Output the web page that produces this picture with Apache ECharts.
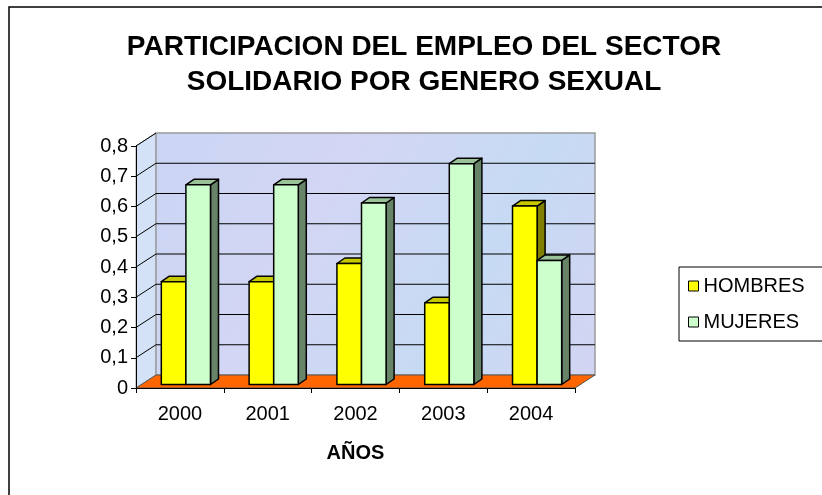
<!DOCTYPE html>
<html>
<head>
<meta charset="utf-8">
<script src="https://cdn.jsdelivr.net/npm/echarts@6/dist/echarts.min.js"></script>
<style>
  html, body { margin: 0; padding: 0; background: #fff; }
  #chart { width: 822px; height: 495px; }
</style>
</head>
<body>
<div id="chart"></div>
<script>
const years = ['2000', '2001', '2002', '2003', '2004']
const hombres = [0.34, 0.34, 0.40, 0.27, 0.59]
const mujeres = [0.66, 0.66, 0.60, 0.73, 0.41]
const yTicks = [0, 0.1, 0.2, 0.3, 0.4, 0.5, 0.6, 0.7, 0.8]

const FONT = "'Liberation Sans', Arial, sans-serif"
// depth of the pseudo 3d box
const DX = 20
const DY = -13

const chart = echarts.init(document.getElementById('chart'))

function wallsItem(params, api) {
  const cs = params.coordSys
  const x0 = cs.x
  const x1 = cs.x + cs.width
  const yb = api.coord([0, 0])[1]
  const yt = api.coord([0, yTicks[yTicks.length - 1]])[1]
  const children = []
  const wallFill = {
    type: 'linear', x: 0, y: 0, x2: 1, y2: 1,
    colorStops: [
      { offset: 0, color: '#c9d5f3' },
      { offset: 0.35, color: '#d3d6f4' },
      { offset: 0.7, color: '#c6daf4' },
      { offset: 1, color: '#d2d4f2' }
    ]
  }
  // side wall
  children.push({
    type: 'polygon',
    shape: { points: [[x0, yt], [x0 + DX, yt + DY], [x0 + DX, yb + DY], [x0, yb]] },
    style: { fill: '#d3e2f7', stroke: '#9a9a9a', lineWidth: 1 }
  })
  // back wall
  children.push({
    type: 'rect',
    shape: { x: x0 + DX, y: yt + DY, width: cs.width, height: yb - yt },
    style: { fill: wallFill, stroke: '#9a9a9a', lineWidth: 1.5 }
  })
  // floor
  children.push({
    type: 'polygon',
    shape: { points: [[x0, yb], [x1, yb], [x1 + DX, yb + DY], [x0 + DX, yb + DY]] },
    style: { fill: '#ff6600', stroke: '#555', lineWidth: 1 }
  })
  yTicks.forEach((t, i) => {
    const y = api.coord([0, t])[1]
    if (i > 0 && i < yTicks.length - 1) {
      children.push({
        type: 'line',
        shape: { x1: x0 + DX, y1: y + DY, x2: x1 + DX, y2: y + DY },
        style: { stroke: '#000', lineWidth: 1 }
      })
    }
    if (i > 0) {
      children.push({
        type: 'line',
        shape: { x1: x0, y1: y, x2: x0 + DX, y2: y + DY },
        style: { stroke: '#000', lineWidth: 1 }
      })
    }
  })
  return { type: 'group', children }
}

function barRenderer(side, colors) {
  return function (params, api) {
    const idx = api.value(0)
    const v = api.value(1)
    const base = api.coord([idx, 0])
    const top = api.coord([idx, v])
    const cw = api.size([1, 0])[0]
    const bw = cw * 0.28
    const offX = 6, offY = -3.5
    const dx = 8, dy = -5.5
    const left = base[0] + offX + (side === 0 ? -bw : 0)
    const right = left + bw
    const yb = base[1] + offY
    const yt = top[1] + offY
    const st = { stroke: '#000', lineWidth: 1.5, lineJoin: 'round' }
    return {
      type: 'group',
      children: [
        {
          type: 'polygon',
          shape: { points: [[right, yt], [right + dx, yt + dy], [right + dx, yb + dy], [right, yb]] },
          style: Object.assign({ fill: colors.side }, st)
        },
        {
          type: 'polygon',
          shape: { points: [[left, yt], [left + dx, yt + dy], [right + dx, yt + dy], [right, yt]] },
          style: Object.assign({ fill: colors.top }, st)
        },
        {
          type: 'rect',
          shape: { x: left, y: yt, width: bw, height: yb - yt },
          style: Object.assign({ fill: colors.front }, st)
        }
      ]
    }
  }
}

const option = {
  animation: false,
  backgroundColor: '#fff',
  title: {
    text: 'PARTICIPACION DEL EMPLEO DEL SECTOR\nSOLIDARIO POR GENERO SEXUAL',
    left: 419,
    textAlign: 'center',
    top: 25,
    textStyle: {
      fontFamily: FONT,
      fontSize: 28,
      fontWeight: 'bold',
      color: '#000',
      lineHeight: 35
    }
  },
  legend: {
    orient: 'vertical',
    left: 679,
    top: 267,
    padding: [9, 19, 9, 9],
    itemGap: 16,
    itemWidth: 10,
    itemHeight: 10,
    icon: 'rect',
    borderColor: '#000',
    borderWidth: 1,
    itemStyle: { borderColor: '#000', borderWidth: 1 },
    textStyle: { fontFamily: FONT, fontSize: 20, color: '#000' },
    data: ['HOMBRES', 'MUJERES']
  },
  graphic: [
    {
      type: 'rect',
      shape: { x: 9, y: 7, width: 900, height: 600 },
      style: { fill: 'none', stroke: '#000', lineWidth: 1.5 },
      silent: true
    }
  ],
  grid: {
    left: 136,
    top: 146,
    width: 439,
    height: 242
  },
  xAxis: {
    type: 'category',
    data: years,
    z: 10,
    axisLine: { lineStyle: { color: '#000', width: 1 } },
    axisTick: { show: true, length: 5, lineStyle: { color: '#000' } },
    axisLabel: { fontFamily: FONT, fontSize: 20, color: '#000', margin: 16 },
    name: 'AÑOS',
    nameLocation: 'middle',
    nameGap: 55,
    nameTextStyle: { fontFamily: FONT, fontSize: 20, fontWeight: 'bold', color: '#000' }
  },
  yAxis: {
    type: 'value',
    min: 0,
    max: 0.8,
    interval: 0.1,
    z: 10,
    axisLine: { show: true, lineStyle: { color: '#000', width: 1 } },
    axisTick: { show: true, length: 5, lineStyle: { color: '#000' } },
    splitLine: { show: false },
    axisLabel: {
      fontFamily: FONT,
      fontSize: 20,
      color: '#000',
      margin: 8,
      formatter: v => (v === 0 ? '0' : v.toFixed(1).replace('.', ','))
    }
  },
  series: [
    {
      name: 'walls',
      type: 'custom',
      silent: true,
      z: 1,
      renderItem: wallsItem,
      data: [[0, 0]]
    },
    {
      name: 'HOMBRES',
      type: 'custom',
      z: 2,
      itemStyle: { color: '#ffff00', borderColor: '#000', borderWidth: 1 },
      renderItem: barRenderer(0, { front: '#ffff00', top: '#c8c800', side: '#808000' }),
      encode: { x: 0, y: 1 },
      data: hombres.map((v, i) => [i, v])
    },
    {
      name: 'MUJERES',
      type: 'custom',
      z: 3,
      itemStyle: { color: '#ccffcc', borderColor: '#000', borderWidth: 1 },
      renderItem: barRenderer(1, { front: '#ccffcc', top: '#99c299', side: '#688468' }),
      encode: { x: 0, y: 1 },
      data: mujeres.map((v, i) => [i, v])
    }
  ]
}

option && chart.setOption(option)
</script>
</body>
</html>
